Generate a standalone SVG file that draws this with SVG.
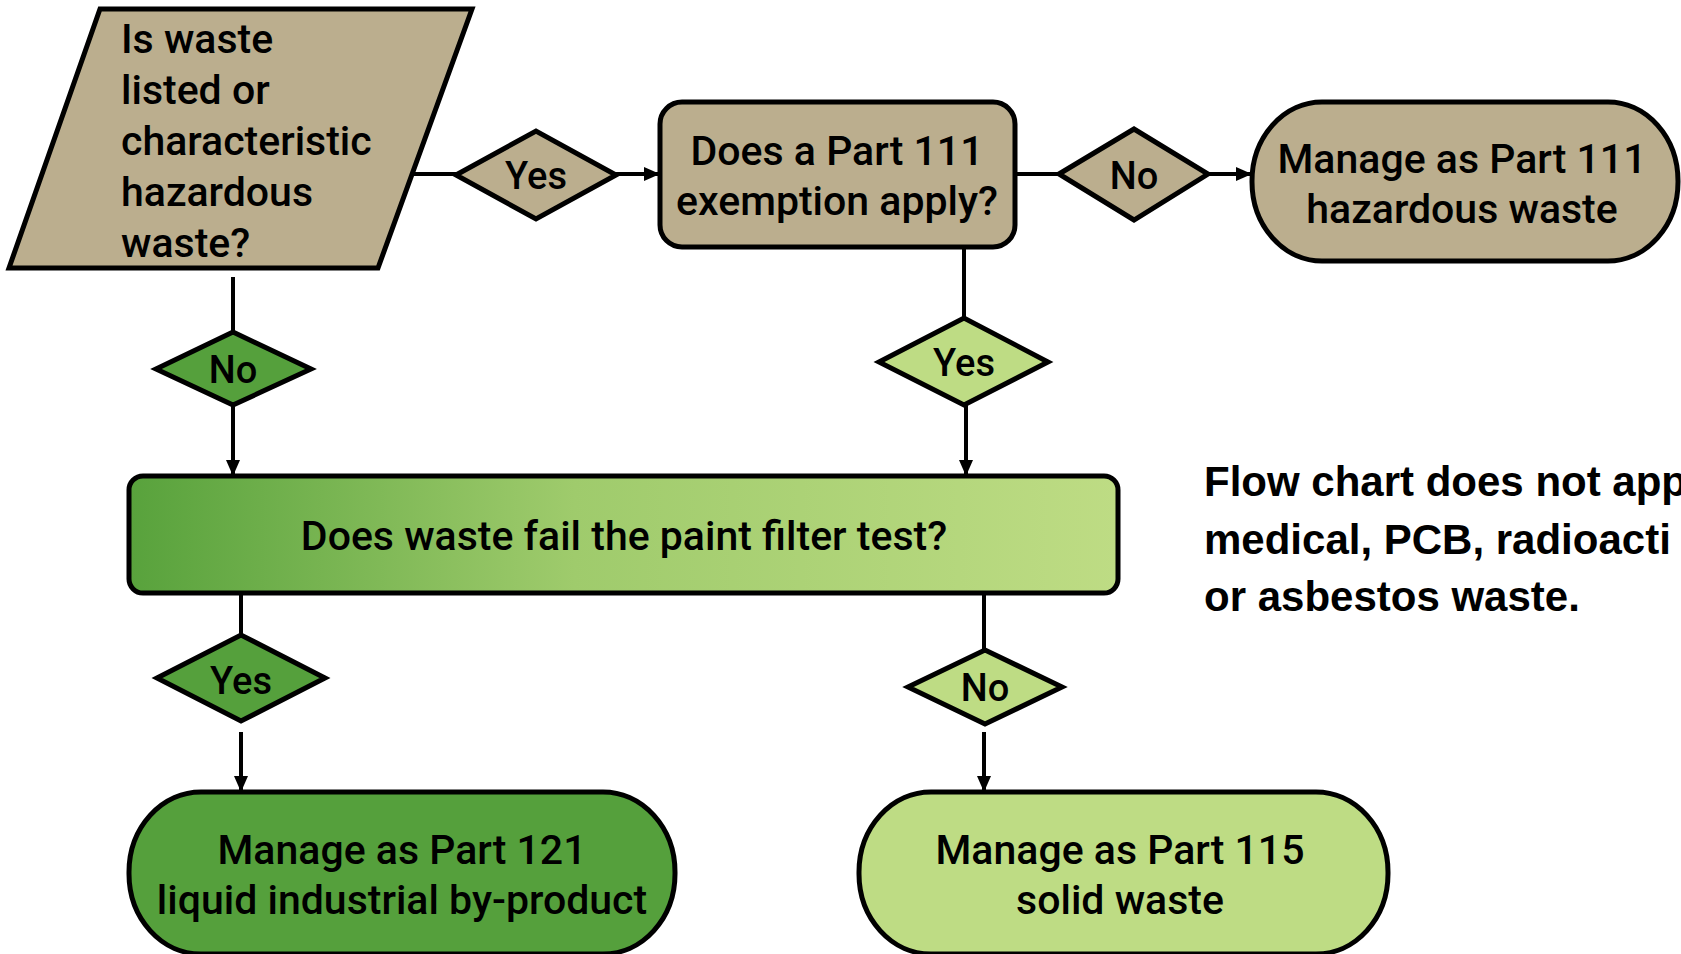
<svg xmlns="http://www.w3.org/2000/svg" width="1681" height="954" viewBox="0 0 1681 954">
<defs>
<linearGradient id="grad" x1="0" y1="0" x2="1" y2="0">
<stop offset="0" stop-color="#58A23C"/>
<stop offset="0.45" stop-color="#9FCB6C"/>
<stop offset="1" stop-color="#BEDC84"/>
</linearGradient>
<marker id="arr" markerUnits="userSpaceOnUse" markerWidth="16" markerHeight="14" refX="15" refY="7" orient="auto">
<path d="M0,0 L16,7 L0,14 Z" fill="#000"/>
</marker>
<style>
.tan{fill:#BBAE8E;stroke:#000;stroke-width:5}
.dk{fill:#55A03C;stroke:#000;stroke-width:5}
.lt{fill:#BEDC84;stroke:#000;stroke-width:5}
.t{font-family:Roboto,"Liberation Sans",Arial,sans-serif;font-weight:500;font-size:41px;fill:#000}
.d{font-family:Roboto,"Liberation Sans",Arial,sans-serif;font-weight:500;font-size:38px;fill:#000;text-anchor:middle}
.c{text-anchor:middle}
.ln{stroke:#000;stroke-width:4;fill:none}
.note{font-family:"Liberation Sans",Arial,sans-serif;font-weight:bold;font-size:42px;fill:#000}
</style>
</defs>

<g id="connectors">
<line class="ln" x1="412" y1="174" x2="456" y2="174"/>
<line class="ln" x1="616" y1="174" x2="659" y2="174" marker-end="url(#arr)"/>
<line class="ln" x1="1015" y1="174" x2="1059" y2="174"/>
<line class="ln" x1="1208" y1="174" x2="1251" y2="174" marker-end="url(#arr)"/>
<line class="ln" x1="233" y1="277" x2="233" y2="332"/>
<line class="ln" x1="233" y1="405" x2="233" y2="475" marker-end="url(#arr)"/>
<line class="ln" x1="964" y1="247" x2="964" y2="318"/>
<line class="ln" x1="966" y1="405" x2="966" y2="475" marker-end="url(#arr)"/>
<line class="ln" x1="241" y1="593" x2="241" y2="635"/>
<line class="ln" x1="241" y1="732" x2="241" y2="791" marker-end="url(#arr)"/>
<line class="ln" x1="984" y1="593" x2="984" y2="650"/>
<line class="ln" x1="984" y1="732" x2="984" y2="791" marker-end="url(#arr)"/>
</g>

<g id="q1">
<polygon class="tan" points="100,9 472,9 378,268 9,268"/>
<text class="t" x="121" y="53">Is waste</text>
<text class="t" x="121" y="104">listed or</text>
<text class="t" x="121" y="155">characteristic</text>
<text class="t" x="121" y="206">hazardous</text>
<text class="t" x="121" y="257">waste?</text>
</g>

<g id="d1">
<polygon class="tan" points="456,175 536,131 616,175 536,219"/>
<text class="d" x="536" y="189">Yes</text>
</g>

<g id="q2">
<rect class="tan" x="660" y="102" width="355" height="145" rx="22"/>
<text class="t c" x="837" y="165">Does a Part 111</text>
<text class="t c" x="837" y="215">exemption apply?</text>
</g>

<g id="d2">
<polygon class="tan" points="1059,174 1134,129 1208,174 1134,220"/>
<text class="d" x="1134" y="189">No</text>
</g>

<g id="t1">
<rect class="tan" x="1252" y="102" width="426" height="159" rx="70" ry="79"/>
<text class="t c" x="1462" y="173">Manage as Part 111</text>
<text class="t c" x="1462" y="223">hazardous waste</text>
</g>

<g id="d3">
<polygon class="dk" points="156,369 233,332 311,369 233,405"/>
<text class="d" x="233" y="383">No</text>
</g>

<g id="d4">
<polygon class="lt" points="879,362 964,318 1048,362 964,405"/>
<text class="d" x="964" y="376">Yes</text>
</g>

<g id="q3">
<rect x="129" y="476" width="989" height="117" rx="14" fill="url(#grad)" stroke="#000" stroke-width="5"/>
<text class="t c" x="624" y="550">Does waste fail the paint filter test?</text>
</g>

<g id="d5">
<polygon class="dk" points="157,678 241,635 325,678 241,721"/>
<text class="d" x="241" y="694">Yes</text>
</g>

<g id="d6">
<polygon class="lt" points="908,687 985,650 1062,687 985,724"/>
<text class="d" x="985" y="701">No</text>
</g>

<g id="t2">
<rect class="dk" x="129" y="792" width="546" height="162" rx="72" ry="80"/>
<text class="t c" x="402" y="864">Manage as Part 121</text>
<text class="t c" x="402" y="914">liquid industrial by-product</text>
</g>

<g id="t3">
<rect class="lt" x="859" y="792" width="529" height="162" rx="72" ry="80"/>
<text class="t c" x="1120" y="864">Manage as Part 115</text>
<text class="t c" x="1120" y="914">solid waste</text>
</g>

<g id="note">
<text class="note" x="1204" y="496">Flow chart does not app</text>
<text class="note" x="1204" y="554">medical, PCB, radioacti</text>
<text class="note" x="1204" y="611">or asbestos waste.</text>
</g>
</svg>
